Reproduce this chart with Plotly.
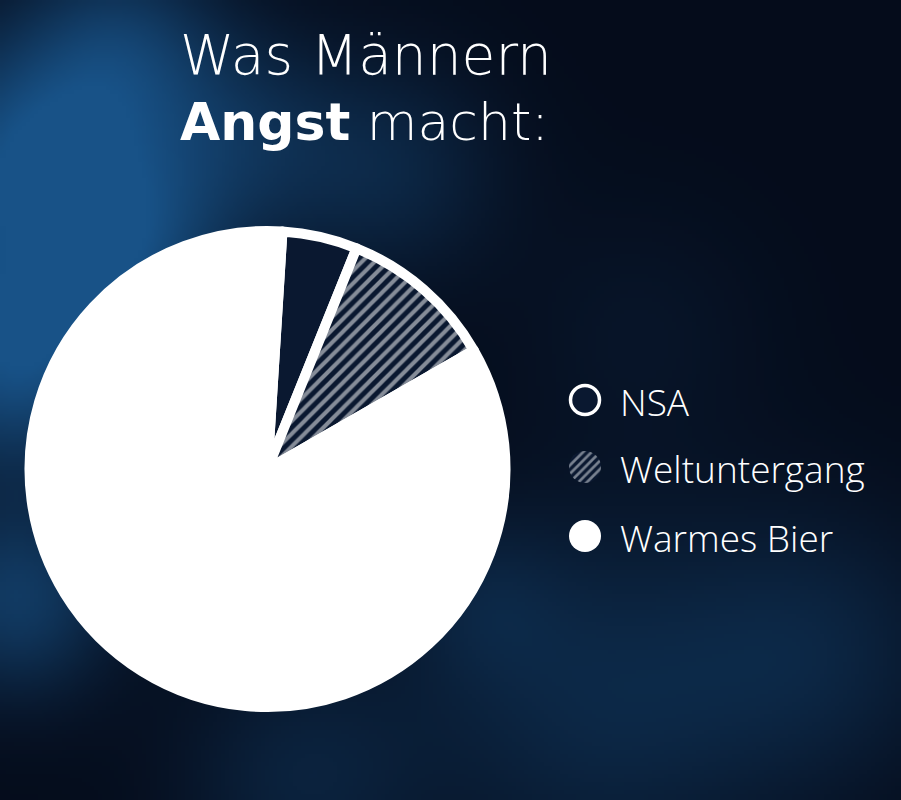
import base64, struct, zlib
import numpy as np
import plotly.graph_objects as go

# ---- data ----
categories = ["NSA", "Weltuntergang", "Warmes Bier"]
values = [5.1, 10.6, 84.3]
title_line1 = "Was Männern"
title_line2_bold = "Angst"
title_line2_rest = " macht:"

W, H = 901, 800
BG = "#07122a"
SLICE_DARK = "#0a1830"
FONT = "Open Sans"
TITLE_FONT = "DejaVu Sans"


# ---- soft cloudy background image (decorative) ----
def png_uri(arr):
    h, w, _ = arr.shape
    raw = b"".join(b"\x00" + arr[y].tobytes() for y in range(h))

    def chunk(t, d):
        c = struct.pack(">I", len(d)) + t + d
        return c + struct.pack(">I", zlib.crc32(t + d) & 0xFFFFFFFF)

    png = (b"\x89PNG\r\n\x1a\n"
           + chunk(b"IHDR", struct.pack(">IIBBBBB", w, h, 8, 2, 0, 0, 0))
           + chunk(b"IDAT", zlib.compress(raw, 9))
           + chunk(b"IEND", b""))
    return "data:image/png;base64," + base64.b64encode(png).decode()


gw, gh = 226, 200
xs = np.linspace(0, W, gw)[None, :]
ys = np.linspace(0, H, gh)[:, None]
glow = np.zeros((gh, gw))
blobs = [(30, 160, 90, 0.95), (10, 360, 80, 0.9), (130, 260, 70, 0.55),
         (15, 600, 70, 0.65), (230, 140, 80, 0.45), (390, 170, 80, 0.35),
         (120, 40, 70, 0.5), (600, 700, 130, 0.38), (820, 650, 100, 0.3),
         (300, 780, 90, 0.3), (480, 600, 60, 0.2), (640, 330, 90, 0.12)]
for bx, by, s, a in blobs:
    glow += a * np.exp(-((xs - bx) ** 2 + (ys - by) ** 2) / (2 * s * s))
glow = np.clip(glow, 0, 1)
dark = np.array([5, 12, 27], float)
blue = np.array([24, 82, 135], float)
img = (dark[None, None, :] + glow[..., None] * (blue - dark)[None, None, :])
img = np.clip(img, 0, 255).astype(np.uint8)

fig = go.Figure()

# ---- main pie ----
lw = 10
cx, cy = 267.5, 469.0
r = 243.0 - lw / 2
fig.add_trace(go.Pie(
    labels=categories, values=values, sort=False, direction="clockwise",
    rotation=3.6, textinfo="none", hoverinfo="label+percent", showlegend=False,
    domain=dict(x=[(cx - r) / W, (cx + r) / W], y=[(H - cy - r) / H, (H - cy + r) / H]),
    marker=dict(colors=[SLICE_DARK, SLICE_DARK, "#ffffff"],
                line=dict(color="#ffffff", width=lw),
                pattern=dict(shape=["", "/", ""], fgcolor="#ffffff", bgcolor=SLICE_DARK,
                             size=9, solidity=0.45, fillmode="overlay")),
))

# ---- custom legend icons (circles) ----
icon_x = 585
icon_y = [400, 467, 536]
icon_styles = [
    dict(colors=[SLICE_DARK], line=dict(color="#ffffff", width=3.5), pattern=dict(shape="")),
    dict(colors=[SLICE_DARK], line=dict(color=SLICE_DARK, width=0),
         pattern=dict(shape="/", fgcolor="#e6e9ee", bgcolor=SLICE_DARK, size=6, solidity=0.45, fillmode="overlay")),
    dict(colors=["#ffffff"], line=dict(color="#ffffff", width=0), pattern=dict(shape="")),
]
icon_r = [14.5, 16, 16]
for name, yy, st, ir in zip(categories, icon_y, icon_styles, icon_r):
    fig.add_trace(go.Pie(
        labels=[name], values=[1], textinfo="none", hoverinfo="label", showlegend=False,
        sort=False, marker=st,
        domain=dict(x=[(icon_x - ir) / W, (icon_x + ir) / W], y=[(H - yy - ir) / H, (H - yy + ir) / H]),
    ))
    fig.add_annotation(text=name, x=618 / W, y=(H - yy - 1) / H, xref="paper", yref="paper",
                       xanchor="left", yanchor="middle", showarrow=False,
                       font=dict(family=FONT, size=37, color="#ffffff", weight=300))

# ---- title (one text, two lines; base size sets the line spacing) ----
title_html = ('<span style="font-size:55px">' + title_line1 + '</span><br>'
              '<span style="font-size:52px"><b>' + title_line2_bold + '</b>'
              + title_line2_rest + '</span>')
fig.add_annotation(text=title_html, x=178 / W, y=(H - 88) / H, xref="paper", yref="paper",
                   xanchor="left", yanchor="middle", align="left", showarrow=False,
                   font=dict(family=TITLE_FONT, size=50.5, color="#ffffff", weight=300))

fig.update_layout(
    width=W, height=H, margin=dict(l=0, r=0, t=0, b=0),
    paper_bgcolor=BG, plot_bgcolor=BG,
    images=[dict(source=png_uri(img), xref="paper", yref="paper", x=0, y=1,
                 sizex=1, sizey=1, sizing="stretch", xanchor="left", yanchor="top",
                 layer="below")],
)

fig.write_html("out.html", config={"displayModeBar": False})
with open("out.html", encoding="utf-8") as f:
    html = f.read()
html = html.replace("<body>", '<body style="margin:0;padding:0;overflow:hidden">', 1)
with open("out.html", "w", encoding="utf-8") as f:
    f.write(html)
